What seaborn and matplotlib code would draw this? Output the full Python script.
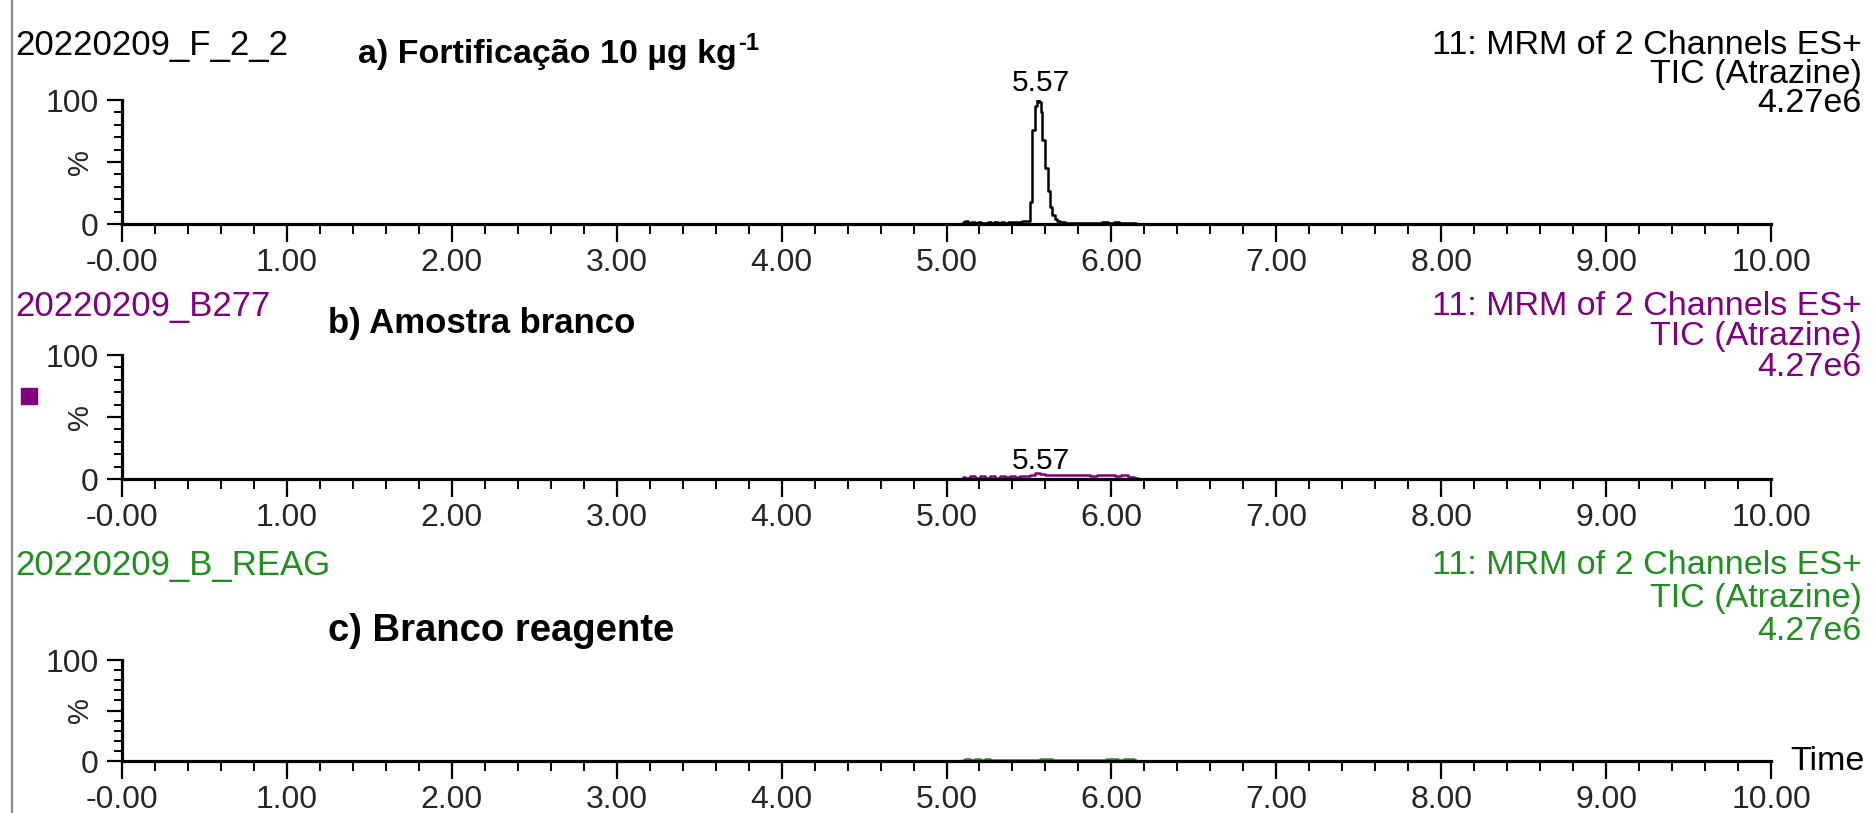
import matplotlib
matplotlib.use("Agg")
import matplotlib.pyplot as plt
import seaborn as sns
import numpy as np
from matplotlib.lines import Line2D
from matplotlib.patches import Rectangle
from matplotlib.ticker import MultipleLocator, FixedLocator, FixedFormatter

# ---------------- data ----------------
sample_names = ["20220209_F_2_2", "20220209_B277", "20220209_B_REAG"]
panel_titles = ["a) Fortificação 10 µg kg", "b) Amostra branco", "c) Branco reagente"]
header_lines = ["11: MRM of 2 Channels ES+", "TIC (Atrazine)", "4.27e6"]
trace_colors = ["#000000", "#800080", "#1f8f1f"]

time_a = [5.10, 5.12, 5.14, 5.16, 5.18, 5.20, 5.22, 5.24, 5.26, 5.28, 5.30, 5.32,
          5.34, 5.36, 5.38, 5.40, 5.44, 5.48, 5.50, 5.512, 5.527, 5.543, 5.555,
          5.567, 5.575, 5.587, 5.608, 5.624, 5.636, 5.648, 5.665, 5.68, 5.70,
          5.74, 5.80, 5.86, 5.93, 5.96, 6.00, 6.03, 6.06, 6.10, 6.15]
pct_a = [1.5, 2.5, 1.0, 2.0, 0.8, 1.8, 1.2, 0.6, 1.5, 0.7, 1.6, 0.9,
         1.4, 0.6, 1.8, 2.0, 2.0, 2.1, 2.5, 18.0, 76.0, 95.0, 100.0,
         98.0, 90.0, 68.0, 45.0, 27.0, 14.0, 7.0, 4.0, 2.5, 1.5,
         1.2, 1.0, 1.0, 1.0, 1.8, 1.0, 1.8, 1.0, 1.2, 0.8]

time_b = [5.10, 5.13, 5.16, 5.19, 5.22, 5.25, 5.28, 5.31, 5.34, 5.37, 5.40,
          5.43, 5.46, 5.49, 5.52, 5.55, 5.58, 5.61, 5.66, 5.72, 5.78, 5.84,
          5.90, 5.93, 5.96, 6.00, 6.04, 6.08, 6.12, 6.16]
pct_b = [2.0, 1.2, 2.5, 1.0, 2.2, 1.0, 2.4, 1.2, 2.6, 1.4, 2.8,
         1.6, 2.5, 2.8, 3.0, 4.6, 4.2, 3.2, 3.0, 3.0, 3.0, 3.0,
         2.2, 3.0, 3.0, 3.0, 2.4, 3.0, 2.0, 1.0]

time_c = [5.10, 5.13, 5.16, 5.19, 5.22, 5.25, 5.28, 5.32, 5.36, 5.40, 5.45,
          5.50, 5.55, 5.58, 5.62, 5.66, 5.72, 5.80, 5.88, 5.95, 5.98, 6.02,
          6.06, 6.09, 6.12, 6.15]
pct_c = [1.0, 2.0, 1.0, 1.5, 0.8, 1.8, 1.0, 1.2, 1.0, 1.2, 1.0,
         1.2, 1.3, 2.2, 2.0, 1.4, 1.2, 1.2, 1.2, 1.3, 2.2, 2.0,
         1.4, 2.2, 1.5, 0.8]

peak_labels = [5.57, 5.57, None]
x_major = [0, 1, 2, 3, 4, 5, 6, 7, 8, 9, 10]
x_tick_labels = ["-0.00", "1.00", "2.00", "3.00", "4.00", "5.00",
                 "6.00", "7.00", "8.00", "9.00", "10.00"]
y_major = [0, 50, 100]
y_tick_labels = ["0", "", "100"]

times = [time_a, time_b, time_c]
pcts = [pct_a, pct_b, pct_c]

# ---------------- style ----------------
sns.set_theme(style="white")
plt.rcParams["font.family"] = ["Liberation Sans", "DejaVu Sans"]

W, H = 1873, 813
fig = plt.figure(figsize=(W / 100, H / 100), dpi=100)
fig.patch.set_facecolor("white")


def fx(px):
    return px / W


def fy(py):
    return 1 - py / H


axis_bottom = [224, 479, 761]   # pixel row of the 0 % line
axis_top = [100, 355, 660]      # pixel row of the 100 % line
header_y = [45, 306, 565]
header_step = [29.5, 30.5, 33]
title_y = [54, 324, 631]
title_x = [358, 328, 328]
title_fs = [24.5, 25, 27.5]
label_off = [2, -1, 0]
FS = 23
HFS = 24.5

for i in range(3):
    y0 = axis_bottom[i]
    ax = fig.add_axes([fx(122), fy(y0), fx(1771) - fx(122), (y0 - axis_top[i]) / H])
    sns.lineplot(x=times[i], y=pcts[i], ax=ax, color=trace_colors[i],
                 drawstyle="steps-mid", estimator=None, linewidth=1.8)
    ax.set_xlim(0, 10)
    ax.set_ylim(0, 100)
    ax.set_xlabel("")
    ax.set_ylabel("")
    ax.set_facecolor("none")
    for s in ["top", "right"]:
        ax.spines[s].set_visible(False)
    for s in ["left", "bottom"]:
        ax.spines[s].set_linewidth(2.3)
        ax.spines[s].set_color("black")
    ax.xaxis.set_major_locator(FixedLocator(x_major))
    ax.xaxis.set_major_formatter(FixedFormatter(x_tick_labels))
    ax.xaxis.set_minor_locator(MultipleLocator(0.2))
    ax.yaxis.set_major_locator(FixedLocator(y_major))
    ax.yaxis.set_major_formatter(FixedFormatter(y_tick_labels))
    ax.yaxis.set_minor_locator(MultipleLocator(10))
    ax.tick_params(axis="x", which="major", direction="out", length=13, width=1.6,
                   labelsize=FS, pad=4, color="black", bottom=True)
    ax.tick_params(axis="x", which="minor", direction="out", length=7, width=1.4,
                   color="black", bottom=True)
    ax.tick_params(axis="y", which="major", direction="out", length=11, width=1.6,
                   labelsize=FS, pad=6, color="black", left=True)
    ax.tick_params(axis="y", which="minor", direction="out", length=6, width=1.4,
                   color="black", left=True)
    ax.text(-0.017, 0.5, "%", transform=ax.transAxes, rotation=90,
            ha="right", va="center", fontsize=FS - 2)

    if peak_labels[i] is not None:
        j = int(np.argmin([abs(t - peak_labels[i]) for t in times[i]]))
        ymax = max(pcts[i][max(0, j - 2):j + 3])
        ax.annotate(f"{peak_labels[i]:.2f}", xy=(peak_labels[i], ymax),
                    xytext=(0, label_off[i]), textcoords="offset points",
                    ha="center", va="bottom", fontsize=FS - 1.5, color="black")

    # header texts
    fig.text(fx(15), fy(header_y[i]), sample_names[i], ha="left", va="center",
             fontsize=HFS + 0.5, color=trace_colors[i])
    for k, line in enumerate(header_lines):
        fig.text(fx(1862), fy(header_y[i] + header_step[i] * k), line, ha="right",
                 va="center", fontsize=HFS, color=trace_colors[i])

    t = fig.text(fx(title_x[i]), fy(title_y[i]), panel_titles[i], ha="left",
                 va="center", fontsize=title_fs[i], fontweight="bold", color="black")
    if i == 0:
        fig.add_artist(plt.Annotation("-1", xy=(1.0, 1.0), xycoords=t, xytext=(1, 5),
                                      textcoords="offset points", ha="left", va="top",
                                      fontsize=FS - 6, fontweight="bold", color="black"))

# Time label
fig.text(fx(1790), fy(761), "Time", ha="left", va="center", fontsize=HFS, color="black")

# left border line and purple marker
fig.add_artist(Line2D([fx(12), fx(12)], [0, 1], color="#8a8a8a", lw=1.6))
fig.add_artist(Rectangle((fx(21), fy(404)), fx(16), 16 / H, color="#800080",
                         transform=fig.transFigure))

fig.savefig("out.png", dpi=100, facecolor="white")
